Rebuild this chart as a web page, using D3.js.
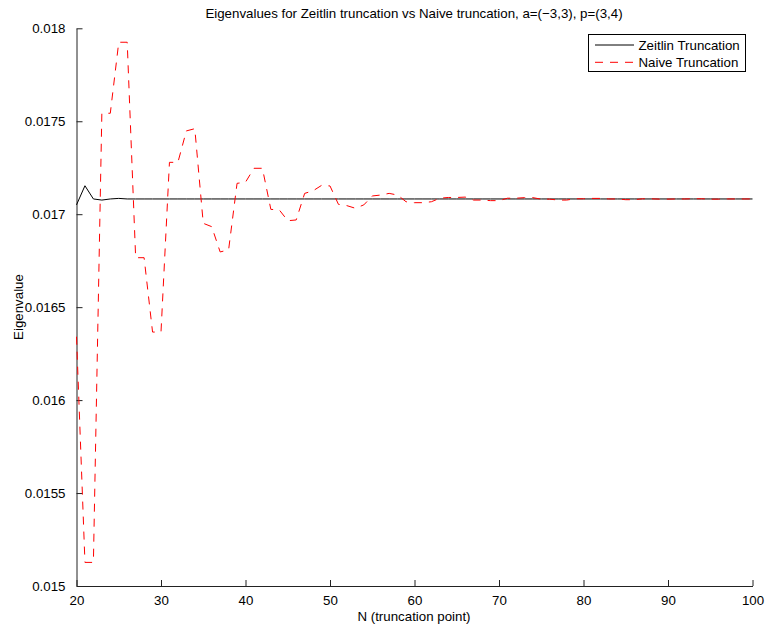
<!DOCTYPE html>
<html><head><meta charset="utf-8">
<script src="https://cdn.jsdelivr.net/npm/d3@7"></script>
<style>
body{margin:0;background:#fff;}
svg{display:block;font-family:"Liberation Sans",Arial,Helvetica,sans-serif;}
</style></head>
<body><svg id="chart" width="766" height="629"></svg>
<script>
const titleText = "Eigenvalues for Zeitlin truncation vs Naive truncation, a=(\u22123,3), p=(3,4)";
const xLabel = "N (truncation point)";
const yLabel = "Eigenvalue";
const seriesNames = ["Zeitlin Truncation", "Naive Truncation"];
const xTicks = [20,30,40,50,60,70,80,90,100];
const yTicks = [0.015,0.0155,0.016,0.0165,0.017,0.0175,0.018];
const yTickLabels = ["0.015","0.0155","0.016","0.0165","0.017","0.0175","0.018"];
const N = [20,21,22,23,24,25,26,27,28,29,30,31,32,33,34,35,36,37,38,39,40,41,42,43,44,45,46,47,48,49,50,
  51,52,53,54,55,56,57,58,59,60,61,62,63,64,65,66,67,68,69,70,71,72,73,74,75,76,77,78,79,80,
  81,82,83,84,85,86,87,88,89,90,91,92,93,94,95,96,97,98,99,100];
const zeitlin = [0.01705,0.017153,0.017082,0.017076,0.017082,0.017085,0.017082,0.017082,0.017082,0.017082,0.017082,
  0.017082,0.017082,0.017082,0.017082,0.017082,0.017082,0.017082,0.017082,0.017082,0.017082,
  0.017082,0.017082,0.017082,0.017082,0.017082,0.017082,0.017082,0.017082,0.017082,0.017082,
  0.017082,0.017082,0.017082,0.017082,0.017082,0.017082,0.017082,0.017082,0.017082,0.017082,
  0.017082,0.017082,0.017082,0.017082,0.017082,0.017082,0.017082,0.017082,0.017082,0.017082,
  0.017082,0.017082,0.017082,0.017082,0.017082,0.017082,0.017082,0.017082,0.017082,0.017082,
  0.017082,0.017082,0.017082,0.017082,0.017082,0.017082,0.017082,0.017082,0.017082,0.017082,
  0.017082,0.017082,0.017082,0.017082,0.017082,0.017082,0.017082,0.017082,0.017082,0.017082];
const naive = [0.016341,0.015127,0.015127,0.017543,0.017543,0.017925,0.017925,0.016766,0.016766,0.016366,0.016366,
  0.017279,0.017279,0.017448,0.01746,0.016951,0.016933,0.016797,0.016808,0.017166,0.017172,
  0.017247,0.017247,0.017026,0.017023,0.016965,0.016969,0.017112,0.017126,0.017155,0.017152,
  0.017053,0.017046,0.017032,0.01705,0.017098,0.017103,0.017112,0.017103,0.017067,0.017062,
  0.017062,0.017067,0.017086,0.01709,0.01709,0.017092,0.017076,0.017076,0.017073,0.017073,
  0.017086,0.017086,0.017089,0.017089,0.017081,0.017081,0.017076,0.017076,0.017083,0.017083,
  0.017085,0.017085,0.017082,0.017082,0.017078,0.017078,0.017083,0.017083,0.017081,0.017081,
  0.017082,0.017082,0.017083,0.017083,0.017081,0.017081,0.017082,0.017082,0.017082,0.017082];

const svg = d3.select("#chart");
const FS = 13.3;
const x = d3.scaleLinear().domain([20,100]).range([76.5,752.5]);
const y = d3.scaleLinear().domain([0.015,0.018]).range([586,28.3]);

// axes (ticks inward)
const xAxis = d3.axisBottom(x).tickValues(xTicks).tickSizeInner(-6).tickSizeOuter(0).tickPadding(10).tickFormat(d3.format("d"));
const gx = svg.append("g").attr("transform","translate(0,586)").call(xAxis);
const yAxis = d3.axisLeft(y).tickValues(yTicks).tickSizeInner(-6).tickSizeOuter(0).tickPadding(11)
  .tickFormat((d,i)=>yTickLabels[i]);
const gy = svg.append("g").attr("transform","translate(76.5,0)").call(yAxis);
[gx,gy].forEach(g=>{
  g.selectAll("path").attr("stroke","#222").attr("stroke-width",1);
  g.selectAll("line").attr("stroke","#222").attr("stroke-width",1);
  g.selectAll("text").attr("font-size",FS).attr("fill","#000").attr("font-family",null);
});
gx.selectAll("text").attr("dy","0.71em");

// lines
const line = (vals)=> d3.line().x((d,i)=>x(N[i])).y(d=>y(d))(vals);
svg.append("path").attr("d",line(zeitlin)).attr("fill","none").attr("stroke","#000").attr("stroke-width",1);
svg.append("path").attr("d",line(naive)).attr("fill","none").attr("stroke","#ff0000").attr("stroke-width",1)
  .attr("stroke-dasharray","8,7");

// title & labels
svg.append("text").attr("x",414).attr("y",18).attr("text-anchor","middle").attr("font-size",FS).text(titleText);
svg.append("text").attr("x",414).attr("y",621).attr("text-anchor","middle").attr("font-size",FS).text(xLabel);
svg.append("text").attr("transform","translate(23,307) rotate(-90)").attr("text-anchor","middle").attr("font-size",FS).text(yLabel);

// legend
const lg = svg.append("g");
lg.append("rect").attr("x",588.5).attr("y",34.5).attr("width",157).attr("height",37).attr("fill","#fff").attr("stroke","#000").attr("stroke-width",1);
const legY = [45,62.3];
const styles = [{c:"#000",d:null},{c:"#ff0000",d:"8,7"}];
seriesNames.forEach((name,i)=>{
  lg.append("line").attr("x1",595).attr("x2",634).attr("y1",legY[i]).attr("y2",legY[i])
    .attr("stroke",styles[i].c).attr("stroke-width",1).attr("stroke-dasharray",styles[i].d);
  lg.append("text").attr("x",638.5).attr("y",legY[i]+4.6).attr("font-size",FS).text(name);
});
</script></body></html>
